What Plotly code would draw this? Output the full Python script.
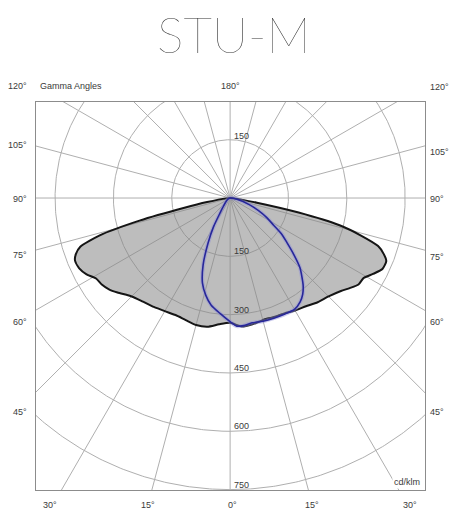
import numpy as np
import plotly.graph_objects as go

# ---------------- data ----------------
title_text = "STU-M"
ring_values = [150, 300, 450, 600, 750]          # cd/klm
radial_step_deg = 15

# C0-C180 plane (grey filled curve): gamma (deg, signed) vs intensity (cd/klm)
c0_gamma = [-90, -85, -80, -78, -76, -74, -72, -70, -68, -65, -62, -59, -56, -53,
            -50, -45, -40, -35, -30, -25, -20, -15, -10, -5, 0, 5, 10, 15, 20, 25,
            30, 35, 40, 45, 50, 53, 56, 59, 62, 65, 68, 70, 72, 74, 76, 78, 80, 85, 90]
c0_int = [0, 10, 60, 120, 240, 350, 405, 422, 430, 428, 418, 402, 398, 390,
          378, 358, 348, 342, 336, 332, 334, 338, 336, 326, 321, 332, 330, 325, 326, 328,
          334, 340, 350, 358, 372, 385, 398, 400, 416, 432, 433, 420, 400, 350, 290, 180, 70, 10, 0]

# C90-C270 plane (blue curve)
c90_gamma = [-90, -70, -55, -45, -38, -34, -30, -26, -22, -18, -14, -10, -5, 0, 3, 6,
             10, 15, 20, 25, 30, 34, 37, 40, 45, 49, 52, 55, 58, 62, 66, 71, 80, 90]
c90_int = [0, 4, 10, 18, 30, 46, 85, 130, 185, 230, 258, 280, 298, 318, 330, 330,
           326, 328, 329, 330, 331, 322, 310, 292, 254, 213, 185, 162, 132, 106, 80, 52, 18, 0]

left_labels = ["120°", "105°", "90°", "75°", "60°", "45°"]
right_labels = ["120°", "105°", "90°", "75°", "60°", "45°"]
bottom_labels = ["30°", "15°", "0°", "15°", "30°"]

# ---------------- geometry helpers ----------------
def to_xy(gamma_deg, inten):
    g = np.radians(np.asarray(gamma_deg, dtype=float))
    i = np.asarray(inten, dtype=float)
    return i * np.sin(g), -i * np.cos(g)

fig = go.Figure()

grid_col = "#afafaf"
# rings
rx, ry = [], []
t = np.linspace(0, 360, 721)
for r in ring_values:
    x, y = to_xy(t, np.full_like(t, r))
    rx += list(x) + [None]
    ry += list(y) + [None]
fig.add_trace(go.Scatter(x=rx, y=ry, mode="lines", line=dict(color=grid_col, width=1),
                         hoverinfo="skip", showlegend=False))
# radial lines
lx, ly = [], []
for a in range(0, 360, radial_step_deg):
    x, y = to_xy([a, a], [0, 1500])
    lx += list(x) + [None]
    ly += list(y) + [None]
fig.add_trace(go.Scatter(x=lx, y=ly, mode="lines", line=dict(color=grid_col, width=1),
                         hoverinfo="skip", showlegend=False))

# C0-C180 filled curve
bx, by = to_xy(c0_gamma, c0_int)
fig.add_trace(go.Scatter(x=bx, y=by, mode="lines", fill="toself",
                         fillcolor="rgba(135,135,135,0.55)",
                         line=dict(color="#151515", width=2, shape="spline", smoothing=0.6),
                         hoverinfo="skip", showlegend=False))
# C90-C270 curve
ux, uy = to_xy(c90_gamma, c90_int)
fig.add_trace(go.Scatter(x=ux, y=uy, mode="lines",
                         line=dict(color="#8f8fd8", width=4, shape="spline", smoothing=0.6),
                         opacity=0.45, hoverinfo="skip", showlegend=False))
fig.add_trace(go.Scatter(x=ux, y=uy, mode="lines",
                         line=dict(color="#27279a", width=1.6, shape="spline", smoothing=0.6),
                         hoverinfo="skip", showlegend=False))

# ---------------- layout ----------------
L, R, T, B = 36, 24, 102, 22
W, H = 449, 512
pw, ph = W - L - R, H - T - B

def px(xp):
    return (xp - L) / pw

def py(yp):
    return (H - B - yp) / ph

lab_font = dict(family="Liberation Sans, Arial, sans-serif", size=9, color="#3a3a3a")
ann = []
# ring value labels
for r in ring_values:
    ann.append(dict(x=4, y=-r, xref="x", yref="y", text=str(r), showarrow=False,
                    xanchor="left", yanchor="bottom", font=lab_font, yshift=-2))
ann.append(dict(x=4, y=ring_values[0], xref="x", yref="y", text=str(ring_values[0]),
                showarrow=False, xanchor="left", yanchor="bottom", font=lab_font, yshift=-3))

left_y = [86, 145, 199, 255, 322, 412]
right_y = [87, 152, 199, 257, 322, 412]
for txt, yy in zip(left_labels, left_y):
    ann.append(dict(x=px(29), y=py(yy), xref="paper", yref="paper", text=txt, showarrow=False,
                    xanchor="right", yanchor="middle", font=lab_font))
for txt, yy in zip(right_labels, right_y):
    ann.append(dict(x=px(428), y=py(yy), xref="paper", yref="paper", text=txt, showarrow=False,
                    xanchor="left", yanchor="middle", font=lab_font))
for txt, xx in zip(bottom_labels, [50, 148, 232, 312, 410]):
    ann.append(dict(x=px(xx), y=py(505), xref="paper", yref="paper", text=txt, showarrow=False,
                    xanchor="center", yanchor="middle", font=lab_font))
ann.append(dict(x=px(38), y=py(86), xref="paper", yref="paper", text="Gamma Angles",
                showarrow=False, xanchor="left", yanchor="middle", font=lab_font))
ann.append(dict(x=px(231), y=py(86), xref="paper", yref="paper", text="180°",
                showarrow=False, xanchor="center", yanchor="middle", font=lab_font))
ann.append(dict(x=px(422), y=py(482), xref="paper", yref="paper", text="cd/klm",
                showarrow=False, xanchor="right", yanchor="middle", font=lab_font,
                bgcolor="white"))
ann.append(dict(x=px(234), y=py(34), xref="paper", yref="paper", text=title_text,
                showarrow=False, xanchor="center", yanchor="middle",
                font=dict(family="Lato, Inter, sans-serif", size=50, color="#2e2e2e", weight=200)))

fig.update_layout(
    width=W, height=H,
    margin=dict(l=L, r=R, t=T, b=B, pad=0),
    paper_bgcolor="white", plot_bgcolor="white",
    annotations=ann,
    xaxis=dict(range=[-499, 501], showgrid=False, zeroline=False, showticklabels=False,
               ticks="", showline=True, mirror=True, linecolor="#8c8c8c", linewidth=1,
               fixedrange=True),
    yaxis=dict(range=[-751, 247], showgrid=False, zeroline=False, showticklabels=False,
               ticks="", showline=True, mirror=True, linecolor="#8c8c8c", linewidth=1,
               fixedrange=True),
)

fig.write_html("out.html", config={"displayModeBar": False, "staticPlot": True},
               post_script="document.body.style.margin='0';document.body.style.overflow='hidden';")
